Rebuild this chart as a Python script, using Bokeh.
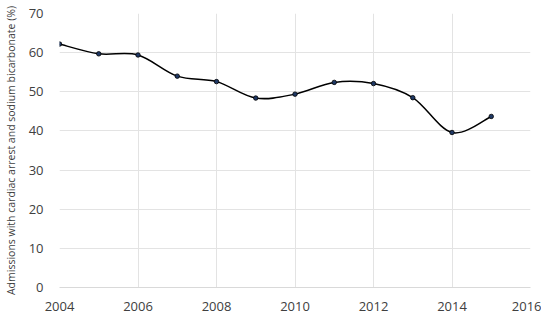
from bokeh.plotting import figure
from bokeh.models import Range1d, FixedTicker
from bokeh.embed import file_html
from bokeh.resources import INLINE

years = [2004, 2005, 2006, 2007, 2008, 2009, 2010, 2011, 2012, 2013, 2014, 2015]
pct = [62.2, 59.7, 59.4, 54.0, 52.6, 48.4, 49.4, 52.4, 52.1, 48.5, 39.6, 43.7]
x_ticks = [2004, 2006, 2008, 2010, 2012, 2014, 2016]
y_ticks = [0, 10, 20, 30, 40, 50, 60, 70]

FONT = "Open Sans"
TXT = "#404040"

p = figure(frame_width=471, frame_height=274, output_backend="svg", toolbar_location=None,
           x_range=Range1d(2004, 2016), y_range=Range1d(0, 70),
           min_border_left=59, min_border_right=11, min_border_top=13, min_border_bottom=5)
p.outline_line_color = None
p.background_fill_color = "white"

# smooth line (Excel-style Catmull-Rom Bezier) built from the data
n = len(years)
x0s, y0s, x1s, y1s, cx0, cy0, cx1, cy1 = [], [], [], [], [], [], [], []
for i in range(n - 1):
    pa = (years[i - 1], pct[i - 1]) if i > 0 else (years[i], pct[i])
    pb = (years[i], pct[i])
    pc = (years[i + 1], pct[i + 1])
    pd = (years[i + 2], pct[i + 2]) if i + 2 < n else (years[i + 1], pct[i + 1])
    x0s.append(pb[0]); y0s.append(pb[1])
    x1s.append(pc[0]); y1s.append(pc[1])
    cx0.append(pb[0] + (pc[0] - pa[0]) / 6); cy0.append(pb[1] + (pc[1] - pa[1]) / 6)
    cx1.append(pc[0] - (pd[0] - pb[0]) / 6); cy1.append(pc[1] - (pd[1] - pb[1]) / 6)
p.bezier(x0=x0s, y0=y0s, x1=x1s, y1=y1s, cx0=cx0, cy0=cy0, cx1=cx1, cy1=cy1,
         line_color="black", line_width=1.5)
p.scatter(years, pct, size=4.5, fill_color="#1f3864", line_color="black", line_width=0.8)

p.xaxis.ticker = FixedTicker(ticks=x_ticks)
p.yaxis.ticker = FixedTicker(ticks=y_ticks)
p.xgrid.grid_line_color = "#e3e3e3"
p.ygrid.grid_line_color = "#e3e3e3"
p.xaxis.axis_line_color = "#d9d9d9"
p.yaxis.axis_line_color = None
for ax in (p.xaxis, p.yaxis):
    ax.major_tick_line_color = None
    ax.minor_tick_line_color = None
    ax.major_label_text_font = FONT
    ax.major_label_text_font_size = "13px"
    ax.major_label_text_color = TXT
p.xaxis.major_label_standoff = 8
p.yaxis.major_label_standoff = 10
p.yaxis.axis_label = "Admissions with cardiac arrest and sodium bicarbonate (%)"
p.yaxis.axis_label_text_font = FONT
p.yaxis.axis_label_text_font_size = "10.5px"
p.yaxis.axis_label_text_font_style = "normal"
p.yaxis.axis_label_text_color = TXT
p.yaxis.axis_label_standoff = 8

open("out.html", "w").write(file_html(p, INLINE))
